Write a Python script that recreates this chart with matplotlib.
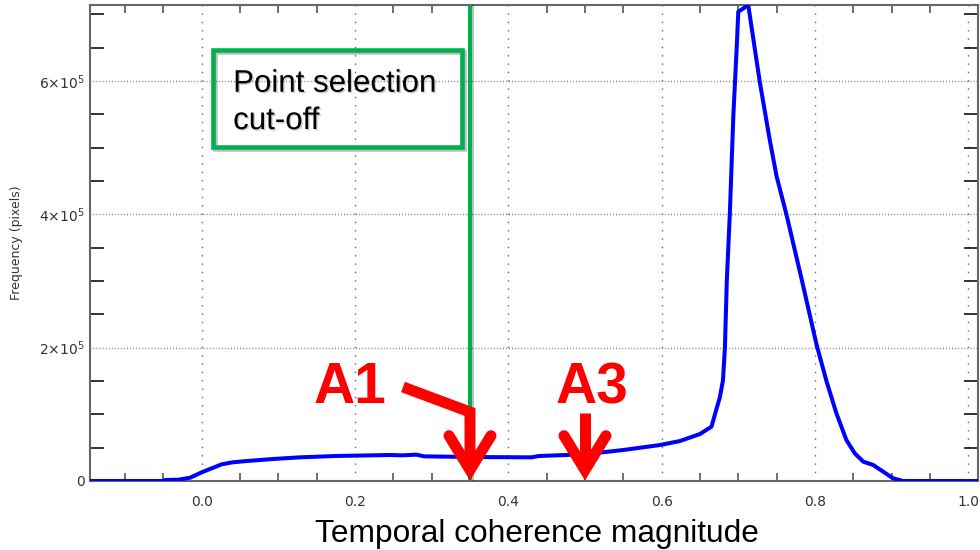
import matplotlib.pyplot as plt
import matplotlib.patheffects as pe
from matplotlib.patches import Rectangle
from matplotlib.ticker import MultipleLocator, FuncFormatter

# histogram of temporal coherence (frequency in pixels)
coherence = [-0.146, -0.05, -0.048, -0.03, -0.015, 0.0, 0.013, 0.026, 0.04, 0.059,
             0.093, 0.128, 0.174, 0.246, 0.262, 0.28, 0.29, 0.35, 0.43, 0.44,
             0.476, 0.511, 0.55, 0.598, 0.624, 0.65, 0.665, 0.676, 0.68, 0.6826,
             0.685, 0.689, 0.6935, 0.698, 0.70, 0.713, 0.728, 0.741, 0.75, 0.763,
             0.783, 0.802, 0.815, 0.828, 0.841, 0.852, 0.863, 0.876, 0.902, 0.915,
             1.013]
frequency = [0, 0, 1.5e3, 2e3, 5e3, 13e3, 19e3, 25e3, 28e3, 30e3,
             33e3, 35.5e3, 37.5e3, 39e3, 38.5e3, 39.5e3, 37e3, 36e3, 35.5e3, 37.5e3,
             39e3, 41.5e3, 46.5e3, 54e3, 60e3, 70.5e3, 81.5e3, 126e3, 151e3, 201e3,
             300e3, 402e3, 547e3, 652e3, 704e3, 714e3, 599e3, 512e3, 457e3, 399e3,
             301e3, 205e3, 150e3, 101.5e3, 61.5e3, 41.5e3, 29e3, 24e3, 4e3, 0,
             0]

cutoff = 0.35
arrow_labels = ['A1', 'A3']
arrow_x = [0.35, 0.5]

GREEN = '#00b050'
RED = '#ff0000'

fig = plt.figure(figsize=(9.8, 5.5), dpi=100)
ax = fig.add_axes([90 / 980, 69 / 550, 888 / 980, 475.7 / 550])
ax.set_xlim(-0.1457, 1.0127)
ax.set_ylim(0, 713.7e3)

# axes frame, IDL style: grid lines at the major ticks, short minor ticks
for s in ax.spines.values():
    s.set_color('#666666')
    s.set_linewidth(1.5)
ax.xaxis.set_major_locator(MultipleLocator(0.2))
ax.xaxis.set_minor_locator(MultipleLocator(0.05))
ax.yaxis.set_major_locator(MultipleLocator(2e5))
ax.yaxis.set_minor_locator(MultipleLocator(0.5e5))
ax.xaxis.set_major_formatter(FuncFormatter(lambda v, p: '%.1f' % v))
ax.yaxis.set_major_formatter(FuncFormatter(
    lambda v, p: '0' if v == 0 else r'$%d{\times}10^{5}$' % round(v / 1e5)))
ax.tick_params(which='major', length=0, labelsize=10, labelcolor='#333333')
ax.tick_params(axis='x', which='major', pad=10)
ax.tick_params(axis='y', which='major', pad=4)
ax.tick_params(axis='x', which='minor', direction='in', length=6,
               width=1.2, color='#555555', top=True, bottom=True)
ax.tick_params(axis='y', which='minor', direction='in', length=10,
               width=1.2, color='#111111', left=True, right=True)
ax.grid(False)
for gx in [0.0, 0.2, 0.4, 0.6, 0.8, 1.0]:
    ax.axvline(gx, color='#666666', lw=1, dashes=(1, 5), zorder=1)
for gy in [2e5, 4e5, 6e5]:
    ax.axhline(gy, color='#666666', lw=1, dashes=(0.6, 1.6), zorder=1)

ax.plot(coherence, frequency, color='#0000ff', lw=2.9, zorder=3, clip_on=True,
        solid_joinstyle='round')

ax.set_ylabel('Frequency (pixels)', fontsize=9, color='#333333')
ax.yaxis.set_label_coords(-0.075, 0.5)
fig.text(537 / 980, 1 - 541.7 / 550, 'Temporal coherence magnitude',
         family='Liberation Sans', fontsize=22.8, ha='center', va='baseline')

# cut-off line and its label box
shadow = [pe.SimpleLineShadow(offset=(1.5, -1.5), alpha=0.25), pe.Normal()]
ax.axvline(cutoff, color=GREEN, lw=2.9, zorder=4, path_effects=shadow)
ax.add_patch(Rectangle((0.0144, 500.7e3), 0.3248, 146e3, fill=False,
                       edgecolor=GREEN, lw=3.3, zorder=4, path_effects=shadow))
text_shadow = [pe.withSimplePatchShadow(offset=(1, -1), alpha=0.2)]
for line, y in zip(['Point selection', 'cut-off'], [584e3, 528e3]):
    ax.text(0.041, y, line, family='Liberation Sans', fontsize=22.5,
            va='baseline', ha='left', zorder=5, path_effects=text_shadow)

# red arrows pointing at the coherence values
arm_dx, vertex_y, arm_y = 0.0274, 16.5e3, 68e3
shafts = [[(0.2626, 141e3), (0.35, 103.5e3), (0.35, vertex_y)],
          [(0.5, 102e3), (0.5, vertex_y)]]
for label, xa, shaft in zip(arrow_labels, arrow_x, shafts):
    sx, sy = zip(*shaft)
    ax.plot(sx, sy, color=RED, lw=7.9, solid_capstyle='butt',
            solid_joinstyle='miter', zorder=6, clip_on=False)
    ax.plot([xa - arm_dx, xa, xa + arm_dx], [arm_y, vertex_y, arm_y], color=RED,
            lw=7.9, solid_capstyle='round', solid_joinstyle='miter', zorder=6,
            clip_on=False)
ax.text(0.1934, 116.6e3, 'A1', color=RED, family='Liberation Sans',
        weight='bold', fontsize=41, ha='center', va='baseline', zorder=7)
ax.text(0.5087, 116.6e3, 'A3', color=RED, family='Liberation Sans',
        weight='bold', fontsize=41, ha='center', va='baseline', zorder=7)

fig.savefig('out.png', dpi=100)
